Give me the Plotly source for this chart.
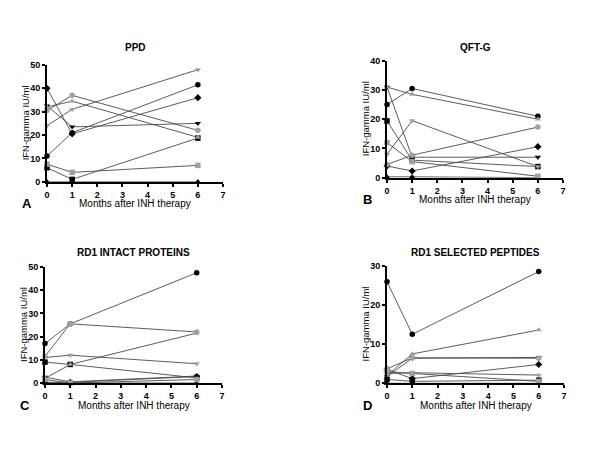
import plotly.graph_objects as go

months = [0, 1, 6]

# Panel A: PPD
ppd_bc = [11, 21, 41.5]
ppd_bs = [6, 1, 18.7]
ppd_btu = [0, 0, 0]
ppd_btd = [32.5, 23.5, 25]
ppd_bd = [40, 20.5, 36]
ppd_gc = [30.5, 37, 22]
ppd_gs = [7.5, 4, 7]
ppd_gtu = [32, 34.5, 19]
ppd_gtd = [24, 31, 48]

# Panel B: QFT-G
qft_bc = [25, 30.5, 21]
qft_bs = [19.4, 6, 3.8]
qft_btu = [0.3, 0.3, 0]
qft_btd = [31, 7, 7]
qft_bd = [4, 2.3, 10.6]
qft_gc = [4.5, 7.7, 17.3]
qft_gs = [12, 5.5, 0.5]
qft_gtu = [31, 28.5, 20]
qft_gtd = [8, 19.5, 3.8]

# Panel C: RD1 intact proteins
rdp_bc = [17, 25.5, 47.5]
rdp_bs = [9, 8, 2.2]
rdp_btu = [0, 0, 0]
rdp_btd = [2.5, 0.5, 3]
rdp_bd = [0.3, 0.3, 2.8]
rdp_gc = [11.5, 25.5, 22]
rdp_gs = [1.5, 0, 1.5]
rdp_gtu = [2, 8, 21.5]
rdp_gtd = [11, 12, 8.3]

# Panel D: RD1 selected peptides
rds_bc = [25.9, 12.5, 28.5]
rds_bs = [1, 0.5, 0.8]
rds_btu = [0, 0, 0]
rds_btd = [1.7, 6.4, 6.6]
rds_bd = [3.5, 1.2, 4.8]
rds_gc = [3.7, 6.5, 6.4]
rds_gs = [3, 2.5, 0.5]
rds_gtu = [2, 7.5, 13.6]
rds_gtd = [2.5, 2.7, 2.1]

panel_titles = ["PPD", "QFT-G", "RD1 INTACT PROTEINS", "RD1 SELECTED PEPTIDES"]
panel_letters = ["A", "B", "C", "D"]
y_max = [50, 40, 50, 30]
x_title = "Months after INH therapy"
y_title = "IFN-gamma IU/ml"

panels = [
    [ppd_bc, ppd_bs, ppd_btu, ppd_btd, ppd_bd, ppd_gc, ppd_gs, ppd_gtu, ppd_gtd],
    [qft_bc, qft_bs, qft_btu, qft_btd, qft_bd, qft_gc, qft_gs, qft_gtu, qft_gtd],
    [rdp_bc, rdp_bs, rdp_btu, rdp_btd, rdp_bd, rdp_gc, rdp_gs, rdp_gtu, rdp_gtd],
    [rds_bc, rds_bs, rds_btu, rds_btd, rds_bd, rds_gc, rds_gs, rds_gtu, rds_gtd],
]

GRAY = "#a0a0a0"
styles = [("circle", "black"), ("square", "black"), ("triangle-up", "black"),
          ("triangle-down", "black"), ("diamond", "black"), ("circle", GRAY),
          ("square", GRAY), ("triangle-up", GRAY), ("triangle-down", GRAY)]

# target pixel geometry in the 600x450 window; the page body adds an 8px offset
OFF = 8
xdom = [[47, 223], [387, 563], [45, 222], [387, 564]]
ydom = [[65, 181.7], [60.7, 177.7], [267, 383], [265.7, 383.3]]

FONT = "Arial, Liberation Sans, sans-serif"
fig = go.Figure()
W, H = 600, 450


def px(x):
    return (x - OFF) / W


def py(y):
    return 1 - (y - OFF) / H


def label(text, x, y, size, angle=0):
    fig.add_annotation(text=text, x=px(x), y=py(y), xref="paper", yref="paper",
                       xanchor="center", yanchor="middle", showarrow=False,
                       textangle=angle, font=dict(family=FONT, size=size, color="black"))


for p in range(4):
    ax = "" if p == 0 else str(p + 1)
    for series, (sym, col) in zip(panels[p], styles):
        fig.add_trace(go.Scatter(
            x=months, y=series, mode="lines+markers",
            xaxis="x" + ax, yaxis="y" + ax,
            line=dict(color="#4a4a4a", width=0.9),
            marker=dict(symbol=sym, color=col, size=5.5),
            cliponaxis=False, showlegend=False, hoverinfo="skip"))
    x0, x1 = xdom[p]
    yt, yb = ydom[p]
    common = dict(showgrid=False, zeroline=False, showline=True, linecolor="black",
                  linewidth=2, ticks="outside", ticklen=3, tickwidth=1.5, tickcolor="black",
                  automargin=False, ticklabelstandoff=0,
                  tickfont=dict(family=FONT, size=9, color="black", weight="bold"))
    fig.layout["xaxis" + ax] = dict(domain=[px(x0), px(x1)], range=[0, 7], dtick=1,
                                    anchor="y" + ax, **common)
    fig.layout["yaxis" + ax] = dict(domain=[py(yb), py(yt)],
                                    range=[0, y_max[p]], dtick=10,
                                    anchor="x" + ax, **common)
    cx = (x0 + x1) / 2
    label("<b>%s</b>" % panel_titles[p], cx, 47 if p < 2 else 252, 10)
    label(x_title, cx, yb + 22, 10)
    label("<b>%s</b>" % panel_letters[p], x0 - 20, yb + 22, 13)
    label(y_title, x0 - 22, (yt + yb) / 2, 9.5, angle=-90)

fig.update_layout(width=W, height=H, margin=dict(l=0, r=0, t=0, b=0),
                  paper_bgcolor="white", plot_bgcolor="white")
fig.write_html("out.html")
